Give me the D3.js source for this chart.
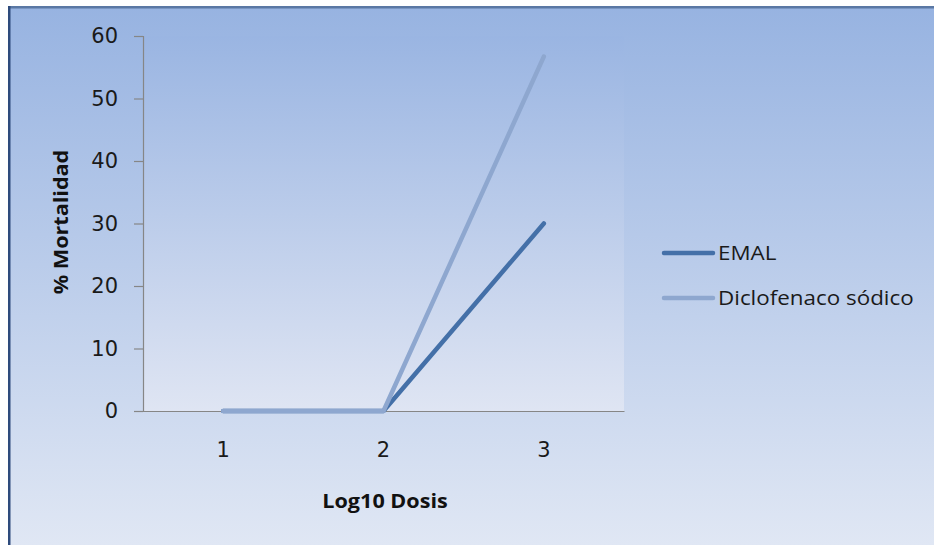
<!DOCTYPE html>
<html>
<head>
<meta charset="utf-8">
<script src="https://cdn.jsdelivr.net/npm/d3@7"></script>
<style>
  html, body { margin: 0; padding: 0; background: #ffffff; }
  svg { display: block; }
</style>
</head>
<body>
<svg id="chart" width="934" height="545"></svg>
<script>
// Dose levels (log10) and mortality percentages per treatment
const categories = ["1", "2", "3"];
const emal = [0, 0, 30];
const diclofenaco = [0, 0, 56.7];
const seriesNames = ["EMAL", "Diclofenaco sódico"];
const yTicks = [0, 10, 20, 30, 40, 50, 60];

const svg = d3.select("#chart");
const W = 934, H = 545;

const defs = svg.append("defs");
const outerGrad = defs.append("linearGradient")
  .attr("id", "outerGrad").attr("x1", 0).attr("y1", 0).attr("x2", 0).attr("y2", 1);
outerGrad.append("stop").attr("offset", "0%").attr("stop-color", "#97b3e1");
outerGrad.append("stop").attr("offset", "100%").attr("stop-color", "#e0e7f4");

const plotGrad = defs.append("linearGradient")
  .attr("id", "plotGrad").attr("x1", 0).attr("y1", 0).attr("x2", 0).attr("y2", 1);
plotGrad.append("stop").attr("offset", "0%").attr("stop-color", "#9ab5e2");
plotGrad.append("stop").attr("offset", "100%").attr("stop-color", "#dfe5f3");

// Chart frame
svg.append("rect").attr("x", 8).attr("y", 6).attr("width", W - 8).attr("height", H - 6)
  .attr("fill", "url(#outerGrad)");
svg.append("rect").attr("x", 8).attr("y", 6).attr("width", W - 8).attr("height", 2.5)
  .attr("fill", "#5a78a4");
svg.append("rect").attr("x", 8).attr("y", 6).attr("width", 2.5).attr("height", H - 6)
  .attr("fill", "#2e4b7c");

const plot = { left: 143, right: 624, top: 36, bottom: 411 };

svg.append("rect")
  .attr("x", plot.left).attr("y", plot.top)
  .attr("width", plot.right - plot.left).attr("height", plot.bottom - plot.top)
  .attr("fill", "url(#plotGrad)");

const x = d3.scaleBand().domain(categories).range([plot.left, plot.right]);
const y = d3.scaleLinear().domain([0, 60]).range([plot.bottom, plot.top]);

const fontTick = "'DejaVu Sans', Verdana, sans-serif";
const fontLabel = "'Open Sans', 'Liberation Sans', sans-serif";

// Y axis
const yAxis = svg.append("g")
  .attr("transform", `translate(${plot.left},0)`)
  .call(d3.axisLeft(y).tickValues(yTicks).tickSize(9).tickPadding(16).tickFormat(d3.format("d")));
yAxis.select(".domain").attr("stroke", "#868686").attr("stroke-width", 1.2);
yAxis.selectAll(".tick line").attr("stroke", "#868686").attr("stroke-width", 1.2);
yAxis.selectAll(".tick text")
  .attr("fill", "#1a1a1a").style("font-family", fontTick).style("font-size", "21px");

// X axis
const xAxis = svg.append("g")
  .attr("transform", `translate(0,${plot.bottom})`)
  .call(d3.axisBottom(x).tickSize(0).tickPadding(31));
xAxis.select(".domain").attr("stroke", "#868686").attr("stroke-width", 1.2);
xAxis.selectAll(".tick text")
  .attr("fill", "#1a1a1a").style("font-family", fontTick).style("font-size", "21px");

// Axis titles
svg.append("text")
  .attr("transform", "translate(385,508) scale(1.08,1)")
  .attr("text-anchor", "middle")
  .style("font-family", fontLabel).style("font-weight", "bold").style("font-size", "20px")
  .attr("fill", "#111")
  .text("Log10 Dosis");

svg.append("text")
  .attr("transform", "translate(68,222) rotate(-90) scale(1.08,1)")
  .attr("text-anchor", "middle")
  .style("font-family", fontLabel).style("font-weight", "bold").style("font-size", "20px")
  .attr("fill", "#111")
  .text("% Mortalidad");

// Lines
const series = [
  { name: seriesNames[0], values: emal, color: "#4470a8" },
  { name: seriesNames[1], values: diclofenaco, color: "#8ea7cf" }
];

const line = d3.line()
  .x((d, i) => x(categories[i]) + x.bandwidth() / 2)
  .y(d => y(d));

svg.selectAll("path.series")
  .data(series)
  .join("path")
  .attr("class", "series")
  .attr("d", d => line(d.values))
  .attr("fill", "none")
  .attr("stroke", d => d.color)
  .attr("stroke-width", 4.5)
  .attr("stroke-linecap", "round")
  .attr("stroke-linejoin", "round");

// Legend
const legend = svg.append("g");
series.forEach((s, i) => {
  const ly = 253 + i * 45;
  legend.append("line")
    .attr("x1", 664).attr("x2", 713).attr("y1", ly).attr("y2", ly)
    .attr("stroke", s.color).attr("stroke-width", 4.5).attr("stroke-linecap", "round");
  legend.append("text")
    .attr("transform", `translate(718,${ly + 7}) scale(1.12,1)`)
    .style("font-family", fontLabel).style("font-size", "20px")
    .attr("fill", "#1a1a1a")
    .text(s.name);
});
</script>
</body>
</html>
